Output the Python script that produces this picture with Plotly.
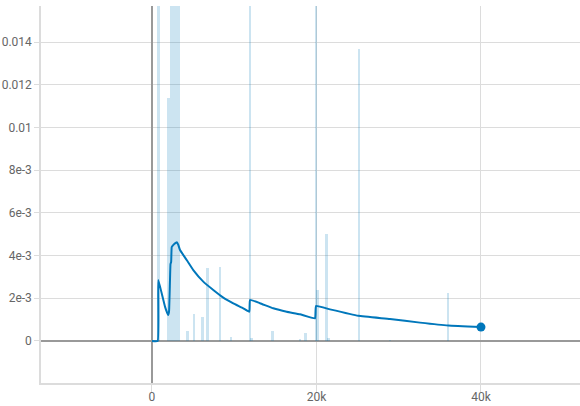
import plotly.graph_objects as go

# Raw (unsmoothed) readings: step and value (tall ones exceed the visible range)
raw_steps = [766, 2006, 2310, 2553, 2797, 3050, 3300, 4292, 5106, 6115, 6723,
             8267, 9605, 11915, 12121, 14626, 17994, 18687, 19939, 20097,
             21240, 21435, 25167, 28936, 35987]
raw_values = [0.031, 0.0114, 0.042, 0.028, 0.036, 0.025, 0.022, 0.00048, 0.00125,
              0.00114, 0.00343, 0.00348, 0.0002, 0.027, 0.00014, 0.00047, 0.0001,
              0.00039, 0.024, 0.00239, 0.00501, 0.00014, 0.01367, 0.00005, 0.00226]

# Smoothed series
smooth_steps = [0, 690, 766, 1180, 1580, 1860, 1950, 2070, 2250, 2330, 2400, 2600,
                2800, 3050, 3200, 3404, 4219, 5021, 6237, 7453, 8669, 9885, 11100,
                11830, 11915, 13130, 14748, 16377, 17994, 19818, 19939, 21640,
                25082, 28936, 32584, 36024, 40000]
smooth_values = [0, 0, 0.00286, 0.00223, 0.00161, 0.0013, 0.00122, 0.00137, 0.0036,
                 0.0037, 0.0044, 0.0045, 0.00457, 0.00462, 0.0045, 0.00426, 0.00379,
                 0.00332, 0.00278, 0.00239, 0.00203, 0.00176, 0.00153, 0.00137,
                 0.00192, 0.00177, 0.00153, 0.00137, 0.00125, 0.00106, 0.00164,
                 0.00148, 0.00118, 0.00103, 0.00086, 0.00072, 0.00065]

x_tick_vals = [0, 20000, 40000]
x_tick_text = ["0", "20k", "40k"]
y_tick_vals = [0, 0.002, 0.004, 0.006, 0.008, 0.01, 0.012, 0.014]
y_tick_text = ["0", "2e-3", "4e-3", "6e-3", "8e-3", "0.01", "0.012", "0.014"]

LINE = "#0077bb"

fig = go.Figure()
fig.add_trace(go.Bar(
    x=raw_steps, y=raw_values, width=300,
    marker=dict(color="rgba(0,119,187,0.2)", line=dict(width=0)),
    hoverinfo="skip", showlegend=False,
))
fig.add_trace(go.Scatter(
    x=smooth_steps, y=smooth_values, mode="lines",
    line=dict(color=LINE, width=2, shape="spline", smoothing=0.3),
    showlegend=False,
))
fig.add_trace(go.Scatter(
    x=[smooth_steps[-1]], y=[smooth_values[-1]], mode="markers",
    marker=dict(color=LINE, size=9), showlegend=False,
))

fig.update_layout(
    width=580, height=406,
    margin=dict(l=41, r=0, t=6, b=23, autoexpand=False),
    paper_bgcolor="white", plot_bgcolor="white",
    font=dict(family="Roboto", size=12, color="#666"),
    bargap=0,
)
fig.update_xaxes(
    range=[-13495, 52040], tickvals=x_tick_vals, ticktext=x_tick_text,
    automargin=False, ticklabelstandoff=-5,
    showgrid=True, gridcolor="#dcdcdc", gridwidth=1,
    zeroline=True, zerolinecolor="#999", zerolinewidth=1.5,
    showline=True, linecolor="#dcdcdc", linewidth=1.5,
    ticks="outside", ticklen=7, tickcolor="#dcdcdc",
)
fig.update_yaxes(
    range=[-0.001967, 0.015686], tickvals=y_tick_vals, ticktext=y_tick_text,
    automargin=False,
    showgrid=True, gridcolor="#dcdcdc", gridwidth=1,
    zeroline=True, zerolinecolor="#999", zerolinewidth=1.5,
    showline=True, linecolor="#dcdcdc", linewidth=1.5,
    ticks="outside", ticklen=5, tickcolor="#dcdcdc",
)

fig.write_html("out.html", config={"displayModeBar": False},
               post_script="document.body.style.margin='0';")
